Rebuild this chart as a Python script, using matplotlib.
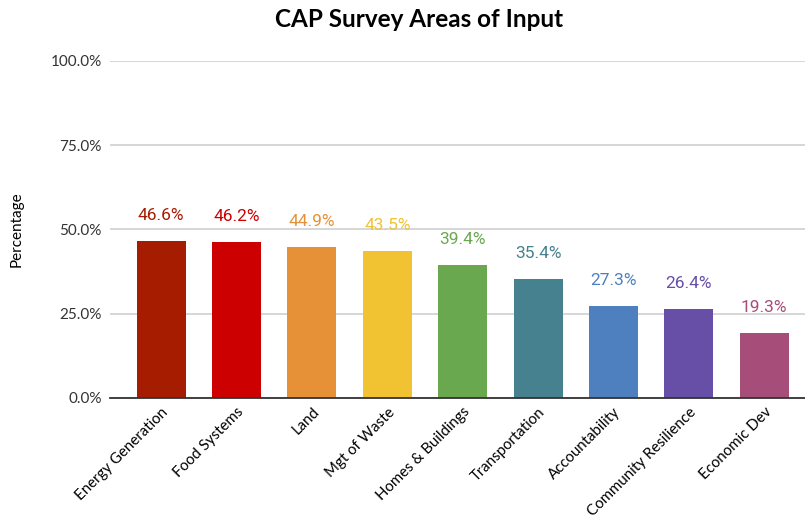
from matplotlib import pyplot as plt
from matplotlib import rcParams
import matplotlib.ticker as ticker
import numpy as np

categories = ['Energy Generation', 'Food Systems', 'Land', 'Mgt of Waste', 'Homes & Buildings',
              'Transportation', 'Accountability', 'Community Resilience', 'Economic Dev']
values = [46.6, 46.2, 44.9, 43.5, 39.4, 35.4, 27.3, 26.4, 19.3]
colors = ['#A61C00', '#CC0000', '#E69138', '#F1C232', '#6AA84F',
          '#45818E', '#4E80C0', '#674EA7', '#A64D79']
yticks = [0, 25, 50, 75, 100]

rcParams["font.family"] = ["Lato", "DejaVu Sans"]

fig = plt.figure(figsize=(8.05, 5.27), dpi=100)
ax = fig.add_axes([0.1366, 0.2448, 0.8634, 0.6395])

x = np.arange(len(categories))
ax.bar(x, values, width=0.65, color=colors, zorder=3)

for xi, v, c in zip(x, values, colors):
    ax.annotate(f'{v:.1f}%', (xi, v), xytext=(0, 13), textcoords='offset points',
                ha='center', va='bottom', color=c, fontsize=12.5, family='Roboto', zorder=4)

ax.set_ylim(0, 100)
ax.set_xlim(-0.68, 8.54)
ax.set_yticks(yticks)
ax.yaxis.set_major_formatter(ticker.FuncFormatter(lambda v, p: f'{v:.1f}%'))
ax.grid(axis='y', color='#D0D0D0', linewidth=1.2, zorder=0)

for s in ['top', 'right', 'left']:
    ax.spines[s].set_visible(False)
ax.spines['bottom'].set_color('#333333')
ax.spines['bottom'].set_linewidth(1.3)
ax.spines['bottom'].set_zorder(5)

ax.set_xticks(x)
ax.set_xticklabels(categories, rotation=45, ha='right', rotation_mode='anchor',
                   fontsize=10.8)
ax.tick_params(axis='x', length=0, pad=5)
ax.tick_params(axis='y', length=0, pad=6, labelsize=11, labelcolor='#333333')

ax.set_ylabel('Percentage', fontsize=11)
ax.yaxis.set_label_coords(-0.124, 0.5)
fig.suptitle('CAP Survey Areas of Input', fontsize=17.5, fontweight='bold', x=0.52, y=0.985)

plt.savefig('out.png', dpi=100)
